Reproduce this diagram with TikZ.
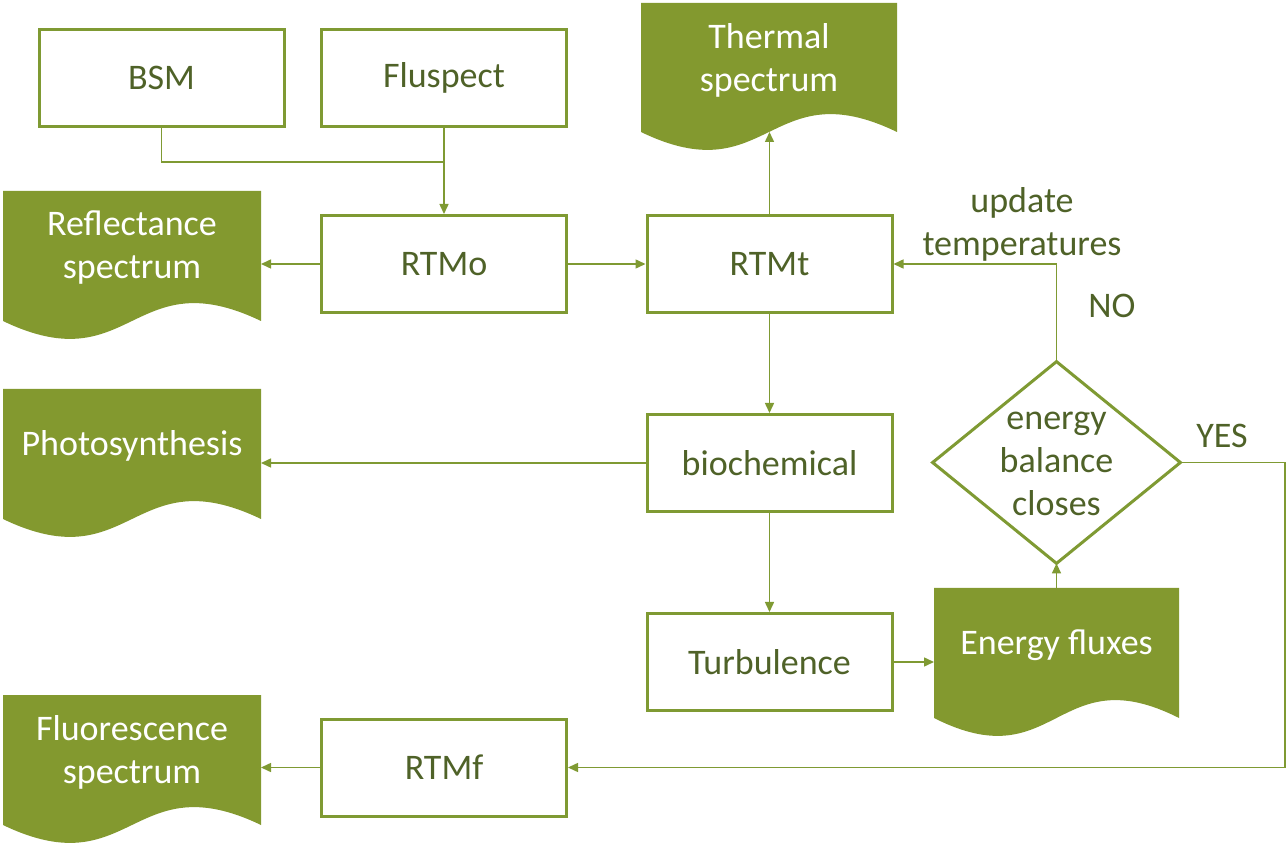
\documentclass[tikz,border=0pt]{standalone}
\usepackage{fontspec}
\setmainfont{Carlito}
\usetikzlibrary{arrows.meta}
\definecolor{txtgreen}{HTML}{4F6228}
\definecolor{linegreen}{HTML}{7F9A33}
\definecolor{docfill}{HTML}{83992F}
\tikzset{
  boxnode/.style={draw=linegreen, line width=1.5pt, minimum width=122.5pt, minimum height=48.5pt, inner sep=0pt, text=txtgreen, font=\fontsize{18}{21.5}\selectfont, align=center},
  doctext/.style={text=white, font=\fontsize{18}{21.5}\selectfont, align=center, inner sep=0pt},
  lbl/.style={text=txtgreen, font=\fontsize{18}{21.5}\selectfont, align=center, inner sep=0pt},
  conn/.style={draw=linegreen, line width=0.75pt},
  arr/.style={conn, -{Triangle[length=5pt,width=4.5pt]}},
}
\newcommand\docnode[6]{%
  \fill[docfill] (#2,#3) -- (#4,#3) -- (#4,#5) .. controls ({(#2+#4)/2},{#5-62}) and ({(#2+#4)/2},{#5+62}) .. (#2,#5) -- cycle;
  \node[doctext] (#1) at ({(#2+#4)/2},{#3+57}) {#6};
  \coordinate (#1-r) at (#4,{#3+55});
  \coordinate (#1-l) at (#2,{#3+55});
  \coordinate (#1-t) at ({(#2+#4)/2},#3);
  \coordinate (#1-b) at ({(#2+#4)/2},#5);
}
\begin{document}
\begin{tikzpicture}[x=0.5pt,y=-0.5pt]
\useasboundingbox (0,0) rectangle (1287,845);
% documents
\docnode{therm}{641}{3}{897}{132}{Thermal\\spectrum}
\docnode{refl}{3}{191}{261}{321}{Reflectance\\spectrum}
\docnode{photo}{3}{389}{261}{519}{Photosynthesis}
\docnode{eflux}{934}{588}{1179}{718}{Energy fluxes}
\docnode{fluor}{3}{695}{261}{825}{Fluorescence\\spectrum}
% boxes
\node[boxnode] (bsm) at (161.5,78) {BSM};
\node[boxnode] (flu) at (444,78) {Fluspect};
\node[boxnode] (rtmo) at (444,264) {RTMo};
\node[boxnode] (rtmt) at (769.5,264) {RTMt};
\node[boxnode] (bio) at (769.5,463) {biochemical};
\node[boxnode] (turb) at (769.5,662) {Turbulence};
\node[boxnode] (rtmf) at (444,767.5) {RTMf};
% diamond
\node[lbl, minimum width=123.5pt, minimum height=100.5pt] (dia) at (1056.5,462.5) {};
\node[lbl] (diatext) at (1056.5,464) {energy\\balance\\closes};
\draw[draw=linegreen, line width=1.5pt, line join=miter] (dia.north) -- (dia.east) -- (dia.south) -- (dia.west) -- cycle;
% labels
\node[lbl] (upd) at (1022,224) {update\\temperatures};
\node[lbl] (no) at (1112,306) {NO};
\node[lbl] (yes) at (1222,436) {YES};
% connectors
\coordinate (jn) at (444,162);
\coordinate (rc) at (1285,0);
\draw[conn] (bsm.south) |- (jn);
\draw[arr] (flu.south) -- (rtmo.north);
\draw[arr] (rtmo.west) -- (rtmo.west -| refl-r);
\draw[arr] (rtmo.east) -- (rtmt.west);
\draw[arr] (rtmt.north) -- (rtmt.north |- therm-b);
\draw[arr] (rtmt.south) -- (bio.north);
\draw[arr] (bio.west) -- (bio.west -| photo-r);
\draw[arr] (bio.south) -- (turb.north);
\draw[arr] (turb.east) -- (turb.east -| eflux-l);
\draw[arr] (dia.south |- eflux-t) -- (dia.south);
\draw[arr] (dia.north) |- (rtmt.east);
\draw[arr] (dia.east) -- (dia.east -| rc) |- (rtmf.east);
\draw[arr] (rtmf.west) -- (rtmf.west -| fluor-r);
\end{tikzpicture}
\end{document}
